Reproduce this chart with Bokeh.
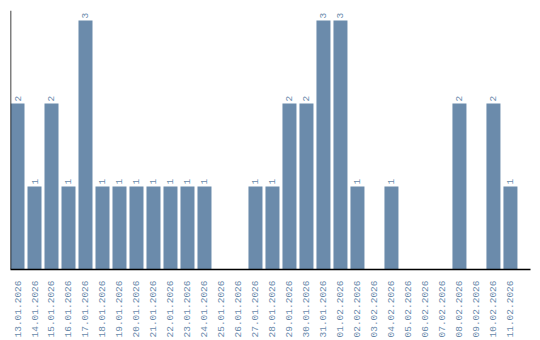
import math
from bokeh.plotting import figure
from bokeh.models import ColumnDataSource, Range1d, Span, FixedTicker
from bokeh.core.properties import value
from bokeh.embed import file_html
from bokeh.resources import INLINE

dates = ["13.01.2026", "14.01.2026", "15.01.2026", "16.01.2026", "17.01.2026",
         "18.01.2026", "19.01.2026", "20.01.2026", "21.01.2026", "22.01.2026",
         "23.01.2026", "24.01.2026", "25.01.2026", "26.01.2026", "27.01.2026",
         "28.01.2026", "29.01.2026", "30.01.2026", "31.01.2026", "01.02.2026",
         "02.02.2026", "03.02.2026", "04.02.2026", "05.02.2026", "06.02.2026",
         "07.02.2026", "08.02.2026", "09.02.2026", "10.02.2026", "11.02.2026"]
counts = [2, 1, 2, 1, 3, 1, 1, 1, 1, 1, 1, 1, 0, 0, 1,
          1, 2, 2, 3, 3, 1, 0, 1, 0, 0, 0, 2, 0, 2, 1]

BAR = "#6b8bab"
TXT = "#6a8aab"
FONT = "Liberation Mono"

xs = list(range(len(dates)))
src = ColumnDataSource(dict(x=xs, y=counts))
nz = [(i, c) for i, c in zip(xs, counts) if c > 0]
lbl = ColumnDataSource(dict(x=[i for i, _ in nz], y=[c for _, c in nz],
                            t=[str(c) for _, c in nz]))

p = figure(width=540, height=340, output_backend="svg", toolbar_location=None,
           x_range=Range1d(-0.412, 30.18), y_range=Range1d(0, 3.12),
           min_border_left=10, min_border_right=10, min_border_top=10,
           min_border_bottom=10)
p.outline_line_color = None
p.xgrid.visible = False
p.ygrid.visible = False
p.yaxis.visible = False

p.vbar(x="x", top="y", width=0.824, bottom=0, source=src,
       fill_color=BAR, line_color=None)
p.text(x="x", y="y", text="t", source=lbl, angle=math.pi / 2,
       text_align="left", text_baseline="middle", y_offset=-2,
       text_font=value(FONT), text_font_size="9.5px", text_color=TXT)

ax = p.xaxis[0]
ax.ticker = FixedTicker(ticks=xs)
ax.major_label_overrides = {i: d for i, d in zip(xs, dates)}
ax.major_label_orientation = math.pi / 2
ax.major_tick_line_color = None
ax.minor_tick_line_color = None
ax.major_label_standoff = 5
ax.axis_line_color = "black"
ax.axis_line_width = 1.5
ax.major_label_text_font = FONT
ax.major_label_text_font_size = "9.5px"
ax.major_label_text_color = TXT

p.add_layout(Span(location=-0.412, dimension="height", line_color="black",
                  line_width=1.5))

open("out.html", "w").write(file_html(p, INLINE))
